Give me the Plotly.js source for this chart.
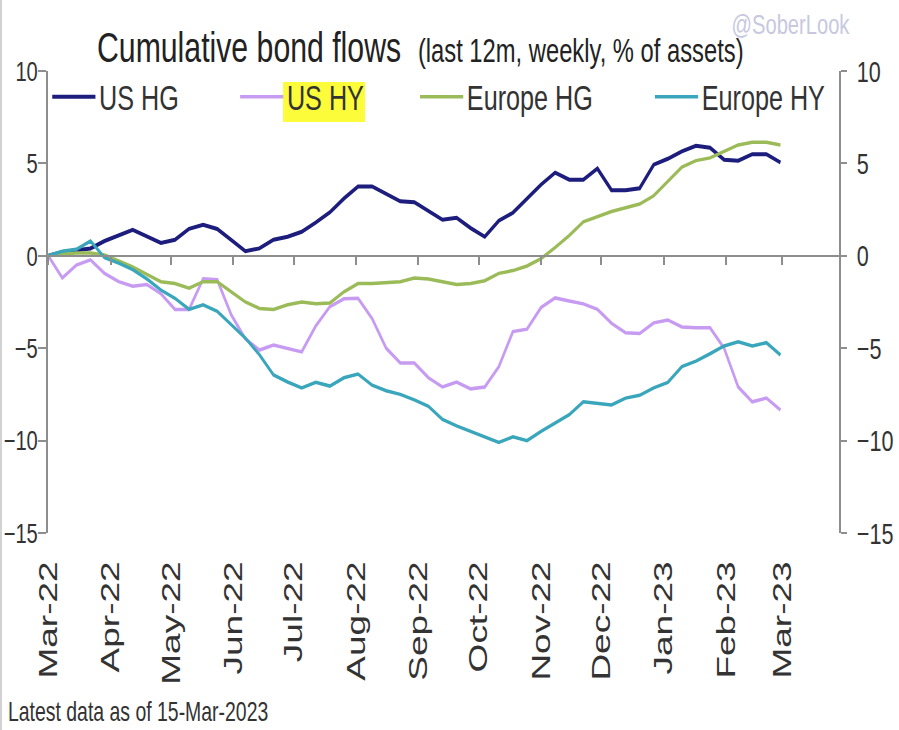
<!DOCTYPE html>
<html><head><meta charset="utf-8">
<script src="https://cdn.plot.ly/plotly-3.0.1.min.js"></script>
<style>
html,body{margin:0;padding:0;background:#fff;overflow:hidden;width:899px;height:730px;}
#wrap{position:absolute;left:0;top:0;width:1249px;height:730px;transform:scaleX(0.72);transform-origin:0 0;}
#chart{width:1249px;height:730px;}
#edge{position:absolute;left:0;top:0;width:1.5px;height:730px;background:#d2d2d2;}
</style></head><body>
<div id="wrap"><div id="chart"></div></div>
<div id="edge"></div>
<script>
// ---- data (weekly, % of assets) ----
const firstWeek = '2022-03-16';
const nWeeks = 53;
const usHG = [0, 0.2, 0.3, 0.4, 0.8, 1.1, 1.4, 1.05, 0.7, 0.87, 1.46, 1.68, 1.45, 0.85, 0.25, 0.4, 0.87, 1.03, 1.3, 1.8, 2.35, 3.1, 3.75, 3.75, 3.35, 2.95, 2.9, 2.45, 1.95, 2.06, 1.5, 1.03, 1.9, 2.33, 3.1, 3.85, 4.5, 4.12, 4.12, 4.72, 3.55, 3.55, 3.65, 4.93, 5.25, 5.65, 5.95, 5.85, 5.2, 5.15, 5.5, 5.5, 5.05];
const usHY = [0, -1.2, -0.5, -0.22, -0.95, -1.4, -1.65, -1.55, -2.05, -2.9, -2.9, -1.25, -1.3, -3.2, -4.5, -5.1, -4.83, -5.0, -5.2, -3.8, -2.75, -2.33, -2.3, -3.4, -5.0, -5.8, -5.8, -6.6, -7.1, -6.83, -7.2, -7.1, -6.0, -4.1, -3.97, -2.8, -2.28, -2.45, -2.6, -2.9, -3.65, -4.17, -4.2, -3.63, -3.47, -3.85, -3.9, -3.9, -5.0, -7.1, -7.9, -7.7, -8.35];
const europeHG = [0, 0.1, 0.15, 0.15, 0.05, -0.3, -0.6, -1.0, -1.4, -1.5, -1.75, -1.4, -1.4, -1.95, -2.5, -2.85, -2.9, -2.65, -2.5, -2.6, -2.55, -1.95, -1.5, -1.5, -1.45, -1.4, -1.2, -1.25, -1.4, -1.55, -1.5, -1.35, -0.95, -0.8, -0.55, -0.15, 0.45, 1.1, 1.84, 2.1, 2.4, 2.6, 2.8, 3.25, 4.0, 4.8, 5.15, 5.3, 5.65, 6.0, 6.15, 6.15, 6.0];
const europeHY = [0, 0.25, 0.35, 0.8, -0.1, -0.4, -0.75, -1.25, -1.85, -2.3, -2.9, -2.65, -3.0, -3.7, -4.45, -5.35, -6.45, -6.83, -7.15, -6.85, -7.05, -6.6, -6.4, -7.0, -7.3, -7.5, -7.8, -8.15, -8.85, -9.2, -9.5, -9.8, -10.1, -9.8, -10.0, -9.5, -9.05, -8.6, -7.9, -7.97, -8.07, -7.7, -7.55, -7.15, -6.85, -6.0, -5.7, -5.3, -4.88, -4.65, -4.88, -4.7, -5.37];
const seriesNames = ['US HG', 'US HY', 'Europe HG', 'Europe HY'];
const tickDates = ['2022-03-16','2022-04-16','2022-05-16','2022-06-16','2022-07-16','2022-08-16','2022-09-16','2022-10-16','2022-11-16','2022-12-16','2023-01-16','2023-02-16','2023-03-16'];
const tickLabels = ['Mar-22','Apr-22','May-22','Jun-22','Jul-22','Aug-22','Sep-22','Oct-22','Nov-22','Dec-22','Jan-23','Feb-23','Mar-23'];
const yTicks = [-15, -10, -5, 0, 5, 10];

// weekly dates
const dates = [];
(function(){ const d0 = new Date(firstWeek + 'T00:00:00Z');
  for (let i = 0; i < nWeeks; i++) { const d = new Date(d0.getTime() + i*7*86400000); dates.push(d.toISOString().slice(0,10)); } })();

// ---- geometry (reference px -> unscaled layout px) ----
const S = 0.72, W = 1249, H = 730;
const L = 48 / S, R = 839 / S, TOP = 71, BOT = 533;
const PW = R - L, PH = BOT - TOP;
const fx = rx => (rx / S - L) / PW;
const fy = ry => (BOT - ry) / PH;

const FONT = '"Liberation Sans", Arial, Helvetica, sans-serif';
const AX = '#8e8e8e';
const colors = ['#1d1d7d', '#c79bf2', '#9bbb59', '#3aa6bc'];
const widths = [4, 3.5, 3.5, 3.5];
const series = [usHG, usHY, europeHG, europeHY];
const legendIds = ['legend', 'legend2', 'legend3', 'legend4'];
const legendLineStartRef = [52, 240, 420, 655];

const traces = series.map((ys, k) => ({
  type: 'scatter', mode: 'lines', x: dates, y: ys, name: seriesNames[k],
  line: {color: colors[k], width: widths[k]}, legend: legendIds[k], hoverinfo: 'skip'
}));
traces.push({type:'scatter', mode:'lines', x: [dates[0], dates[nWeeks-1]], y: [null, null],
  xaxis: 'x2', yaxis: 'y2', showlegend: false, hoverinfo: 'skip'});

const xRange = ['2022-03-16', '2023-04-13'];
const layout = {
  width: W, height: H,
  margin: {l: L, r: W - R, t: TOP, b: H - BOT, pad: 0},
  paper_bgcolor: '#fff', plot_bgcolor: 'rgba(0,0,0,0)',
  font: {family: FONT, color: '#333'},
  title: {text: 'Cumulative bond flows&nbsp;&nbsp;<span style="font-size:33px">(last 12m, weekly, % of assets)</span>',
    font: {size: 42, color: '#222', family: FONT}, xref: 'container', yref: 'container',
    x: (97 / S) / W, xanchor: 'left', y: 1 - 47 / H, yanchor: 'middle', automargin: false},
  xaxis: {type: 'date', range: xRange, tickmode: 'array', tickvals: tickDates, ticktext: tickLabels,
    tickangle: -90, ticks: '', showline: false, showgrid: false, zeroline: false,
    tickfont: {size: 37, color: '#333', family: FONT}, ticklabelstandoff: 20, fixedrange: true},
  xaxis2: {type: 'date', range: xRange, overlaying: 'x', anchor: 'free', position: 15/25,
    tickmode: 'array', tickvals: tickDates, ticks: 'outside', ticklen: 8, tickwidth: 2 / S, tickcolor: AX,
    showline: true, linecolor: AX, linewidth: 2, showticklabels: false, showgrid: false, zeroline: false},
  yaxis: {range: [-15, 10], tickmode: 'array', tickvals: yTicks, ticks: 'outside', ticklen: 8 / S,
    tickwidth: 2, tickcolor: AX, showline: true, linecolor: AX, linewidth: 2 / S, showgrid: false, zeroline: false,
    tickfont: {size: 28, color: '#333', family: FONT}, ticklabelstandoff: -5},
  yaxis2: {range: [-15, 10], overlaying: 'y', side: 'right', anchor: 'x', tickmode: 'array', tickvals: yTicks,
    ticks: 'outside', ticklen: 6 / S, tickwidth: 2, tickcolor: AX, showline: true, linecolor: AX, linewidth: 2 / S,
    showgrid: false, zeroline: false, tickfont: {size: 30, color: '#333', family: FONT}, ticklabelstandoff: 8},
  shapes: [{type: 'rect', xref: 'paper', yref: 'paper', x0: fx(283), x1: fx(365), y0: fy(122), y1: fy(82),
    fillcolor: '#fcfc3a', line: {width: 0}, layer: 'above'}],
  annotations: [
    {text: '@SoberLook', xref: 'paper', yref: 'paper', x: fx(730), y: fy(24), xanchor: 'left', yanchor: 'middle',
      showarrow: false, font: {size: 28, color: '#c8c8e0', family: FONT}},
    {text: 'Latest data as of 15-Mar-2023', xref: 'paper', yref: 'paper', x: fx(7), y: fy(712),
      xanchor: 'left', yanchor: 'middle', showarrow: false, borderpad: 0, font: {size: 27, color: '#333', family: FONT}}
  ],
  showlegend: true
};
legendIds.forEach((id, k) => {
  layout[id] = {orientation: 'h', xref: 'paper', yref: 'paper', x: fx(legendLineStartRef[k]) - 5 / PW,
    xanchor: 'left', y: fy(97), yanchor: 'middle', bgcolor: 'rgba(0,0,0,0)', borderwidth: 0,
    font: {size: 35, color: '#333', family: FONT}, itemwidth: 60};
});

Plotly.newPlot('chart', traces, layout, {staticPlot: true, displayModeBar: false});
</script>
</body></html>
